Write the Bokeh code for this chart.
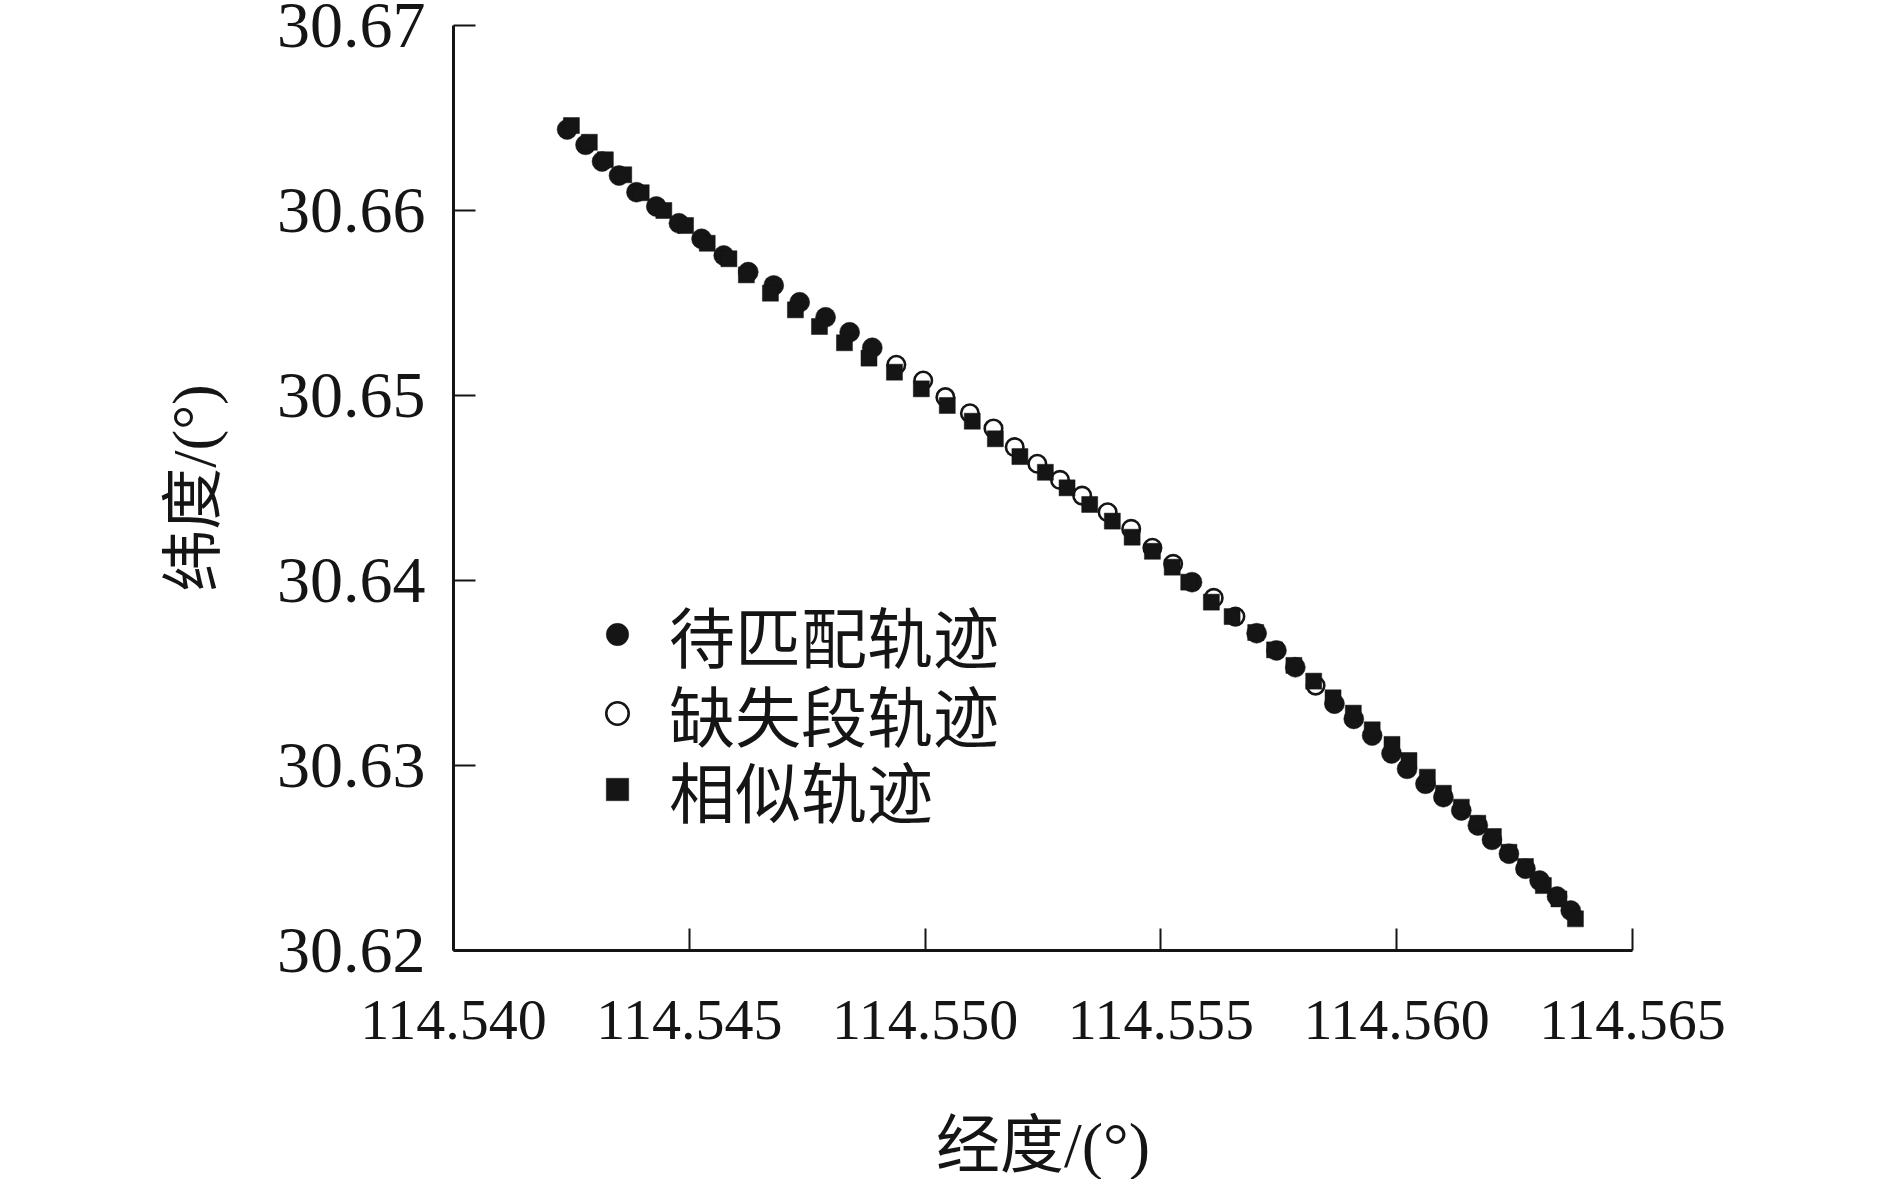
from bokeh.plotting import figure
from bokeh.models import (Range1d, FixedTicker, NumeralTickFormatter, Legend, LegendItem)
from bokeh.embed import file_html
from bokeh.resources import INLINE

# ---- data ----
# 待匹配轨迹 (trajectory to be matched, filled circles)
match_lon = [114.54241, 114.54280, 114.54315, 114.54351, 114.54388, 114.54430, 114.54478,
             114.54526, 114.54573, 114.54625, 114.54679, 114.54734, 114.54789, 114.54840,
             114.54888, 114.55566, 114.55703, 114.55745, 114.55785, 114.55868, 114.55909,
             114.55948, 114.55989, 114.56022, 114.56061, 114.56099, 114.56137, 114.56172,
             114.56202, 114.56238, 114.56273, 114.56303, 114.56340, 114.56369]
match_lat = [30.66438, 30.66355, 30.66265, 30.66189, 30.66099, 30.66022, 30.65931,
             30.65847, 30.65757, 30.65667, 30.65595, 30.65504, 30.65423, 30.65342,
             30.65258, 30.63991, 30.63715, 30.63622, 30.63531, 30.63334, 30.63252,
             30.63162, 30.63065, 30.62982, 30.62901, 30.62829, 30.62757, 30.62676,
             30.62598, 30.62523, 30.62442, 30.62378, 30.62292, 30.62216]

# 缺失段轨迹 (missing segment, open circles)
gap_lon = [114.54939, 114.54996, 114.55043, 114.55095, 114.55145, 114.55190, 114.55238,
           114.55286, 114.55333, 114.55387, 114.55437, 114.55482, 114.55526, 114.55612,
           114.55658, 114.55828]
gap_lat = [30.65166, 30.65081, 30.64991, 30.64904, 30.64822, 30.64721, 30.64631,
           30.64544, 30.64459, 30.64369, 30.64279, 30.64177, 30.64090, 30.63906,
           30.63805, 30.63432]

# 相似轨迹 (similar trajectory, squares)
sim_lon = [114.54250, 114.54288, 114.54322, 114.54361, 114.54398, 114.54446, 114.54492,
           114.54538, 114.54584, 114.54621, 114.54672, 114.54725, 114.54776, 114.54829,
           114.54881, 114.54935, 114.54992, 114.55047, 114.55100, 114.55149, 114.55201,
           114.55255, 114.55301, 114.55349, 114.55397, 114.55439, 114.55482, 114.55524,
           114.55559, 114.55607, 114.55651, 114.55701, 114.55741, 114.55782, 114.55824,
           114.55865, 114.55908, 114.55948, 114.55990, 114.56026, 114.56065, 114.56099,
           114.56137, 114.56172, 114.56205, 114.56238, 114.56273, 114.56311, 114.56344,
           114.56379]
sim_lat = [30.66459, 30.66369, 30.66274, 30.66193, 30.66096, 30.66000, 30.65919,
           30.65823, 30.65739, 30.65652, 30.65553, 30.65463, 30.65373, 30.65285,
           30.65202, 30.65126, 30.65036, 30.64946, 30.64861, 30.64766, 30.64670,
           30.64585, 30.64501, 30.64411, 30.64321, 30.64234, 30.64158, 30.64072,
           30.63991, 30.63883, 30.63805, 30.63719, 30.63625, 30.63541, 30.63456,
           30.63366, 30.63283, 30.63193, 30.63114, 30.63027, 30.62937, 30.62850,
           30.62775, 30.62688, 30.62616, 30.62531, 30.62454, 30.62351, 30.62279,
           30.62171]

x_ticks = [114.540, 114.545, 114.550, 114.555, 114.560, 114.565]
y_ticks = [30.62, 30.63, 30.64, 30.65, 30.66, 30.67]
series_names = ["待匹配轨迹", "缺失段轨迹", "相似轨迹"]
x_title = "经度/(°)"
y_title = "纬度/(°)"

INK = "#151515"
SERIF = "Liberation Serif"
MIXED = "Liberation Serif, Noto Sans CJK SC"

p = figure(
    width=1872, height=1179,
    frame_width=1179, frame_height=925,
    x_range=Range1d(x_ticks[0], x_ticks[-1]),
    y_range=Range1d(y_ticks[0], y_ticks[-1]),
    output_backend="svg", toolbar_location=None,
    min_border_left=453, min_border_top=25, min_border_right=240, min_border_bottom=200,
    background_fill_color="white", border_fill_color="white",
)
p.outline_line_color = None
p.grid.visible = False

r_match = p.scatter(match_lon, match_lat, marker="circle", size=20,
                    fill_color=INK, line_color=INK, line_width=0.5)
r_gap = p.scatter(gap_lon, gap_lat, marker="circle", size=17.5,
                  fill_color="white", line_color=INK, line_width=2.6)
r_sim = p.scatter(sim_lon, sim_lat, marker="square", size=16,
                  fill_color=INK, line_color=INK, line_width=0.5)

for ax in (p.xaxis[0], p.yaxis[0]):
    ax.axis_line_width = 3
    ax.axis_line_color = INK
    ax.major_tick_line_width = 2
    ax.major_tick_line_color = INK
    ax.major_tick_in = 22
    ax.major_tick_out = 0
    ax.minor_tick_line_color = None
    ax.major_label_text_font = SERIF
    ax.major_label_text_color = INK
    ax.axis_label_text_font = MIXED
    ax.axis_label_text_font_style = "normal"
    ax.axis_label_text_color = INK

p.xaxis[0].ticker = FixedTicker(ticks=x_ticks)
p.yaxis[0].ticker = FixedTicker(ticks=y_ticks)
p.xaxis[0].formatter = NumeralTickFormatter(format="0.000")
p.yaxis[0].formatter = NumeralTickFormatter(format="0.00")
p.xaxis[0].major_label_text_font_size = "58px"
p.yaxis[0].major_label_text_font_size = "66px"
p.xaxis[0].major_label_standoff = 50
p.yaxis[0].major_label_standoff = 28
p.xaxis[0].axis_label = x_title
p.yaxis[0].axis_label = y_title
p.xaxis[0].axis_label_text_font_size = "64px"
p.yaxis[0].axis_label_text_font_size = "62px"
p.xaxis[0].axis_label_standoff = 68
p.yaxis[0].axis_label_standoff = 46

# one single-row legend per series, so that the row pitch matches the reference
legend_rows = [(series_names[0], r_match, 268),
               (series_names[1], r_gap, 189),
               (series_names[2], r_sim, 113)]
for name, rend, ypos in legend_rows:
    lg = Legend(
        items=[LegendItem(label=name, renderers=[rend])],
        location=(136, ypos),
        orientation="vertical",
        glyph_width=56, glyph_height=78, label_height=78,
        label_standoff=24, spacing=0, padding=0, margin=0,
        label_text_font=MIXED, label_text_font_size="66px",
        label_text_color=INK,
        border_line_color=None, background_fill_alpha=0,
    )
    p.add_layout(lg, "center")

open("out.html", "w").write(file_html(p, INLINE))
